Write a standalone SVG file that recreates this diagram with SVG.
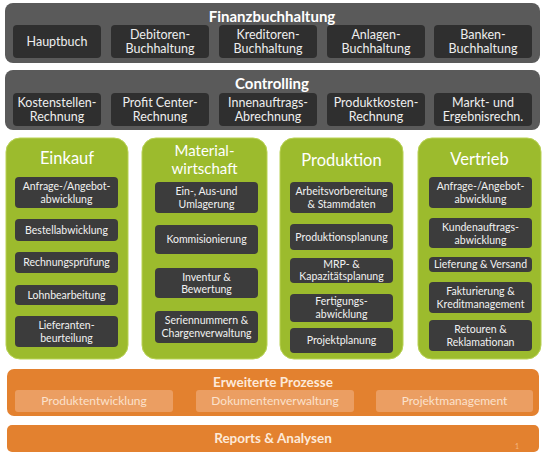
<svg xmlns="http://www.w3.org/2000/svg" width="546" height="457" viewBox="0 0 546 457">
<style>
text{font-family:Lato,"Open Sans","Liberation Sans",sans-serif;text-anchor:middle}
.gp{fill:#5a5a5a}
.gb{fill:#2f2f2f}
.gt{fill:#ffffff;font-size:15px;font-weight:bold}
.bt{fill:#eeeeee;font-size:12.5px}
.grp{fill:#9cbb2d;stroke:#b9d255;stroke-width:1}
.grb{fill:#3c3c3c}
.grt{fill:#ffffff;font-size:16.5px}
.st{fill:#f2f2f2;font-size:10.5px}
.op{fill:#e3812f}
.ob{fill:#eb9e62}
.ot{fill:#fde9d9;font-size:13.5px;font-weight:bold}
.obt{fill:#fbe1cc;font-size:12px}
</style>
<rect width="546" height="457" fill="#ffffff"/>

<g id="finanzbuchhaltung">
<rect class="gp" x="5" y="3" width="535" height="60" rx="8"/>
<text class="gt" x="272" y="22">Finanzbuchhaltung</text>
<rect class="gb" x="13" y="25" width="88" height="33" rx="4"/>
<text class="bt" x="57" y="46">Hauptbuch</text>
<rect class="gb" x="111" y="25" width="98" height="33" rx="4"/>
<text class="bt" x="160" y="39">Debitoren-</text><text class="bt" x="160" y="53">Buchhaltung</text>
<rect class="gb" x="219" y="25" width="98" height="33" rx="4"/>
<text class="bt" x="268" y="39">Kreditoren-</text><text class="bt" x="268" y="53">Buchhaltung</text>
<rect class="gb" x="327" y="25" width="98" height="33" rx="4"/>
<text class="bt" x="376" y="39">Anlagen-</text><text class="bt" x="376" y="53">Buchhaltung</text>
<rect class="gb" x="434" y="25" width="98" height="33" rx="4"/>
<text class="bt" x="483" y="39">Banken-</text><text class="bt" x="483" y="53">Buchhaltung</text>
</g>

<g id="controlling">
<rect class="gp" x="5" y="70" width="535" height="60" rx="8"/>
<text class="gt" x="272" y="89">Controlling</text>
<rect class="gb" x="13" y="93" width="88" height="33" rx="4"/>
<text class="bt" x="57" y="107">Kostenstellen-</text><text class="bt" x="57" y="121">Rechnung</text>
<rect class="gb" x="111" y="93" width="98" height="33" rx="4"/>
<text class="bt" x="160" y="107">Profit Center-</text><text class="bt" x="160" y="121">Rechnung</text>
<rect class="gb" x="219" y="93" width="98" height="33" rx="4"/>
<text class="bt" x="268" y="107">Innenauftrags-</text><text class="bt" x="268" y="121">Abrechnung</text>
<rect class="gb" x="327" y="93" width="98" height="33" rx="4"/>
<text class="bt" x="376" y="107">Produktkosten-</text><text class="bt" x="376" y="121">Rechnung</text>
<rect class="gb" x="434" y="93" width="98" height="33" rx="4"/>
<text class="bt" x="483" y="107">Markt- und</text><text class="bt" x="483" y="121">Ergebnisrechn.</text>
</g>

<g id="einkauf">
<rect class="grp" x="6" y="138" width="122" height="221" rx="14"/>
<text class="grt" x="67" y="164">Einkauf</text>
<rect class="grb" x="15" y="177" width="103" height="31" rx="4"/>
<text class="st" x="66.5" y="190">Anfrage-/Angebot-</text><text class="st" x="66.5" y="203">abwicklung</text>
<rect class="grb" x="15" y="219" width="103" height="22" rx="4"/>
<text class="st" x="66.5" y="234">Bestellabwicklung</text>
<rect class="grb" x="15" y="252" width="103" height="21" rx="4"/>
<text class="st" x="66.5" y="266">Rechnungsprüfung</text>
<rect class="grb" x="15" y="285" width="103" height="20" rx="4"/>
<text class="st" x="66.5" y="299">Lohnbearbeitung</text>
<rect class="grb" x="15" y="316" width="103" height="31" rx="4"/>
<text class="st" x="66.5" y="329">Lieferanten-</text><text class="st" x="66.5" y="342">beurteilung</text>
</g>

<g id="materialwirtschaft">
<rect class="grp" x="142" y="138" width="125" height="221" rx="14"/>
<text class="grt" x="204.5" y="156" style="font-size:15px">Material-</text>
<text class="grt" x="204.5" y="174" style="font-size:15px">wirtschaft</text>
<rect class="grb" x="155" y="182" width="103" height="31" rx="4"/>
<text class="st" x="206.5" y="195">Ein-, Aus-und</text><text class="st" x="206.5" y="208">Umlagerung</text>
<rect class="grb" x="155" y="225" width="103" height="29" rx="4"/>
<text class="st" x="206.5" y="243">Kommisionierung</text>
<rect class="grb" x="155" y="268" width="103" height="30" rx="4"/>
<text class="st" x="206.5" y="281">Inventur &amp;</text><text class="st" x="206.5" y="293">Bewertung</text>
<rect class="grb" x="155" y="311" width="103" height="32" rx="4"/>
<text class="st" x="206.5" y="324">Seriennummern  &amp;</text><text class="st" x="206.5" y="337">Chargenverwaltung</text>
</g>

<g id="produktion">
<rect class="grp" x="280" y="138" width="123" height="221" rx="14"/>
<text class="grt" x="341.5" y="166">Produktion</text>
<rect class="grb" x="290" y="182" width="103" height="31" rx="4"/>
<text class="st" x="341.5" y="195">Arbeitsvorbereitung</text><text class="st" x="341.5" y="208">&amp; Stammdaten</text>
<rect class="grb" x="290" y="224" width="103" height="26" rx="4"/>
<text class="st" x="341.5" y="241">Produktionsplanung</text>
<rect class="grb" x="290" y="258" width="103" height="25" rx="4"/>
<text class="st" x="341.5" y="268">MRP- &amp;</text><text class="st" x="341.5" y="280">Kapazitätsplanung</text>
<rect class="grb" x="290" y="294" width="103" height="28" rx="4"/>
<text class="st" x="341.5" y="305">Fertigungs-</text><text class="st" x="341.5" y="318">abwicklung</text>
<rect class="grb" x="290" y="328" width="103" height="25" rx="4"/>
<text class="st" x="341.5" y="344">Projektplanung</text>
</g>

<g id="vertrieb">
<rect class="grp" x="418" y="138" width="123" height="221" rx="14"/>
<text class="grt" x="479.5" y="165">Vertrieb</text>
<rect class="grb" x="429" y="177" width="103" height="31" rx="4"/>
<text class="st" x="480.5" y="190">Anfrage-/Angebot-</text><text class="st" x="480.5" y="203">abwicklung</text>
<rect class="grb" x="429" y="218" width="103" height="30" rx="4"/>
<text class="st" x="480.5" y="231">Kundenauftrags-</text><text class="st" x="480.5" y="244">abwicklung</text>
<rect class="grb" x="429" y="257" width="103" height="15" rx="4"/>
<text class="st" x="480.5" y="268">Lieferung &amp; Versand</text>
<rect class="grb" x="429" y="282" width="103" height="31" rx="4"/>
<text class="st" x="480.5" y="295">Fakturierung &amp;</text><text class="st" x="480.5" y="308">Kreditmanagement</text>
<rect class="grb" x="429" y="320" width="103" height="31" rx="4"/>
<text class="st" x="480.5" y="333">Retouren &amp;</text><text class="st" x="480.5" y="346">Reklamationan</text>
</g>

<g id="erweiterte-prozesse">
<rect class="op" x="7" y="369" width="532" height="47" rx="7"/>
<text class="ot" x="273" y="387">Erweiterte Prozesse</text>
<rect class="ob" x="15" y="390" width="158" height="22" rx="3"/>
<text class="obt" x="94" y="405">Produktentwicklung</text>
<rect class="ob" x="196" y="390" width="158" height="22" rx="3"/>
<text class="obt" x="275" y="405">Dokumentenverwaltung</text>
<rect class="ob" x="376" y="390" width="157" height="22" rx="3"/>
<text class="obt" x="454.5" y="405">Projektmanagement</text>
</g>

<g id="reports">
<rect class="op" x="7" y="425" width="532" height="27" rx="5"/>
<text class="ot" x="273" y="443">Reports &amp; Analysen</text>
<text x="517" y="449" style="fill:#f3b684;font-size:7px">1</text>
</g>

<g id="connectors"></g>
</svg>
